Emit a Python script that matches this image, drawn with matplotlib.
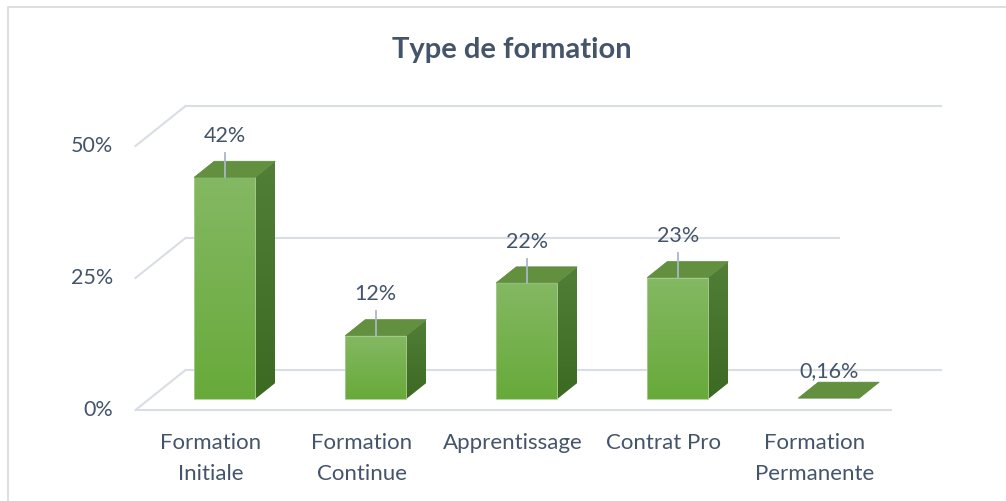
import numpy as np
import matplotlib.pyplot as plt
from matplotlib.patches import Polygon, Rectangle

# data
categories = ["Formation\nInitiale", "Formation\nContinue", "Apprentissage",
              "Contrat Pro", "Formation\nPermanente"]
values = [42, 12, 22, 23, 0.16]
value_labels = ["42%", "12%", "22%", "23%", "0,16%"]
yticks = [0, 25, 50]
ytick_labels = ["0%", "25%", "50%"]

TEXT = "#44546a"
GRID = "#d9dde4"
plt.rcParams["font.family"] = ["Lato", "DejaVu Sans"]

# oblique "3D" projection: depth d in [0, 1] shifts right and up
DX, DY = 50 / 151, 40 / 5.28      # full depth in category / percent units
D0, D1 = 0.275, 0.675             # bar depth span
HALF = 0.202                      # half bar width


def proj(x, v, d):
    return x + d * DX, v + d * DY


fig = plt.figure(figsize=(10.06, 5.01), dpi=100)
ax = fig.add_axes([0, 0, 1, 1])
ax.set_xlim(-211 / 151, (1006 - 211) / 151)
ax.set_ylim((410 - 501) / 5.28, 410 / 5.28)
ax.axis("off")

# outer chart border
fig.patches.append(Rectangle((8 / 1006, -0.1), 1.2, 1.1 - 7 / 501,
                             transform=fig.transFigure, fill=False,
                             edgecolor="#d9d9d9", lw=1.2))

# gridlines: left wall diagonal + back wall horizontal
grid_end = {0: 4.5, 25: 3.83, 50: 4.5}
for v in yticks:
    x0, y0 = proj(-0.5, v, 0)
    x1, y1 = proj(-0.5, v, 1)
    ax.plot([x0, x1], [y0, y1], color=GRID, lw=1.5, zorder=1)
    xe, _ = proj(grid_end[v], v, 1)
    ax.plot([x1, xe], [y1, y1], color=GRID, lw=1.5, zorder=1)
# floor front edge
fx0, fy0 = proj(-0.5, 0, 0)
fx1, _ = proj(4.5, 0, 0)
ax.plot([fx0, fx1], [fy0, fy0], color=GRID, lw=1.5, zorder=1)

# y tick labels
for v, lab in zip(yticks, ytick_labels):
    ax.text(-0.649, v, lab, ha="right", va="center", fontsize=15.5, color=TEXT)


def grad_face(pts, c_top, c_bot, z):
    poly = Polygon(pts, closed=True, facecolor="none", edgecolor="none", zorder=z)
    ax.add_patch(poly)
    xs = [p[0] for p in pts]
    ys = [p[1] for p in pts]
    top = np.array(plt.matplotlib.colors.to_rgb(c_top))
    bot = np.array(plt.matplotlib.colors.to_rgb(c_bot))
    t = np.linspace(0, 1, 64)[:, None]
    img = (top * (1 - t) + bot * t)[:, None, :]
    im = ax.imshow(img, extent=[min(xs), max(xs), min(ys), max(ys)],
                   aspect="auto", origin="upper", zorder=z, interpolation="bilinear")
    im.set_clip_path(poly)


for i, (v, lab) in enumerate(zip(values, value_labels)):
    xl, xr = i - HALF, i + HALF
    fl0 = proj(xl, 0, D0); fr0 = proj(xr, 0, D0)
    fl1 = proj(xl, v, D0); fr1 = proj(xr, v, D0)
    bl1 = proj(xl, v, D1); br1 = proj(xr, v, D1); br0 = proj(xr, 0, D1)
    if v > 1:
        # front and side faces
        grad_face([fl0, fr0, fr1, fl1], "#84b863", "#68aa3a", 3)
        grad_face([fr0, br0, br1, fr1], "#527f37", "#3d6a22", 3)
        ax.add_patch(Polygon([fl0, fr0, fr1, fl1], closed=True, fill=False,
                             edgecolor="#a9cf8f", lw=0.6, zorder=4))
    # top face
    ax.add_patch(Polygon([fl1, fr1, br1, bl1], closed=True,
                         facecolor="#62903f", edgecolor="#5a8a3a", lw=0.5, zorder=4))

    cx, cy = proj(i, v, D0)
    if v > 1:
        ax.text(cx, cy + 7.8, lab, ha="center", va="center", fontsize=15.5, color=TEXT)
        ax.plot([cx, cx], [cy + 4.6, cy], color="#aab6c4", lw=1.3, zorder=5)
    else:
        ax.text(cx, cy + 5.2, lab, ha="center", va="center", fontsize=15.5, color=TEXT)

    # category label
    ax.text(i, -4.4, categories[i], ha="center", va="top", fontsize=16,
            color=TEXT, linespacing=1.65)

fig.text(0.509, 1 - 58 / 501, "Type de formation", ha="center", va="baseline",
         fontsize=21, fontweight="bold", color=TEXT)

fig.savefig("out.png", dpi=100)
